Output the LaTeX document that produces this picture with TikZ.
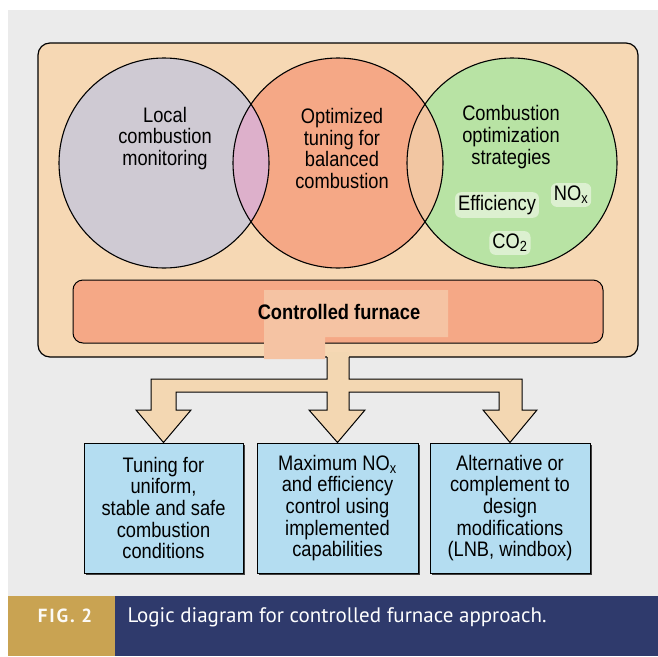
\documentclass[tikz,border=0pt]{standalone}
\usepackage{fontspec}
\newfontfamily\diafont[FakeStretch=0.87]{Liberation Sans}
\newfontfamily\capfont{PT Sans}
\usetikzlibrary{positioning,shadows}
\definecolor{paper}{HTML}{EBEBEB}
\definecolor{panel}{HTML}{F6D8B4}
\definecolor{greyc}{HTML}{CFCAD3}
\definecolor{salmon}{HTML}{F5A886}
\definecolor{greenc}{HTML}{B8E3A4}
\definecolor{lensa}{HTML}{DDB0CB}
\definecolor{lensb}{HTML}{F2C6A2}
\definecolor{patch}{HTML}{F5C3A3}
\definecolor{arrowc}{HTML}{F3D7B2}
\definecolor{skyb}{HTML}{B4DDF1}
\definecolor{halo}{HTML}{DCF0D0}
\definecolor{gold}{HTML}{C9A352}
\definecolor{navy}{HTML}{2F3A6C}
\begin{document}
\begin{tikzpicture}[x=1pt,y=-1pt]
\useasboundingbox (0,0) rectangle (658,656);
\fill[white] (0,0) rectangle (658,656);
\fill[paper] (8,10) rectangle (658,596);
\node[draw, line width=1.2pt, rounded corners=12pt, fill=panel, minimum width=600pt, minimum height=314pt] (frame) at (338,200) {};
\begin{scope}[every node/.style = {circle, minimum size=210pt, inner sep=0pt}]
\node[fill=greyc] (loc) at (164,163) {};
\node[fill=salmon] (opt) at (338,163) {};
\node[fill=greenc] (str) at (512,163) {};
\end{scope}
\begin{scope}
\clip (loc.center) circle (105pt);
\fill[lensa] (opt.center) circle (105pt);
\end{scope}
\begin{scope}
\clip (opt.center) circle (105pt);
\fill[lensb] (str.center) circle (105pt);
\end{scope}
\foreach \c in {loc,opt,str}
  \draw[line width=1.1pt] (\c.center) circle (105pt);
\begin{scope}[every node/.style = {font=\diafont\fontsize{21}{21.7}\selectfont, align=center, inner sep=1pt}]
\node (loctxt) at (165,138.5) {Local\\combustion\\monitoring};
\node (opttxt) at (342,148.5) {Optimized\\tuning for\\balanced\\combustion};
\node (strtxt) at (511,137) {Combustion\\optimization\\strategies};
\node[fill=halo, rounded corners=6pt, inner sep=3pt] (eff) at (497,205) {Efficiency};
\node[fill=halo, rounded corners=6pt, inner sep=3pt] (nox) at (571,195) {NO\textsubscript{x}};
\node[fill=halo, rounded corners=6pt, inner sep=3pt] (co2) at (510,243) {CO\textsubscript{2}};
\end{scope}
\node[draw, line width=1pt, rounded corners=10pt, fill=salmon, minimum width=530pt, minimum height=63pt] (ctl) at (338,311.5) {};
\fill[arrowc] (327,352) rectangle (349,359);
\fill[patch] (264,290) -- (448,290) -- (448,337) -- (325,337) -- (325,359) -- (264,359) -- cycle;
\node[font=\diafont\bfseries\fontsize{21}{22}\selectfont] (ctltxt) at (339,312) {Controlled furnace};
\begin{scope}[every node/.style = {draw, line width=1pt, fill=skyb, minimum height=130pt, align=center, font=\diafont\fontsize{21}{21.7}\selectfont, drop shadow={shadow xshift=1.5pt, shadow yshift=-1.5pt, fill=black!75, opacity=1}}]
\node[minimum width=159pt] (b1) at (163.5,508) {Tuning for\\uniform,\\stable and safe\\combustion\\conditions};
\node[minimum width=161pt] (b2) at (337.5,508) {Maximum NO\textsubscript{x}\\and efficiency\\control using\\implemented\\capabilities};
\node[minimum width=160pt] (b3) at (510,508) {Alternative or\\complement to\\design\\modifications\\(LNB, windbox)};
\end{scope}
\filldraw[fill=arrowc, line width=1pt, line join=miter] (349,357) -- (349,379) -- (522,379) -- (522,410) -- (537,410) -- (b3.north) -- (483,410) -- (499,410) -- (499,392) -- (349,392) -- (349,410) -- (365,410) -- (b2.north) -- (309,410) -- (327,410) -- (327,392) -- (176,392) -- (176,410) -- (191,410) -- (b1.north) -- (136,410) -- (151,410) -- (151,379) -- (327,379) -- (327,357);
\fill[gold] (8,596) rectangle (115,656);
\fill[navy] (115,596) rectangle (658,656);
\node[anchor=base, text=white!95!gold, font=\capfont\bfseries\fontsize{19}{22}\selectfont\addfontfeature{LetterSpace=10}] (fig) at (65,622) {FIG. 2};
\node[anchor=base west, text=white, font=\capfont\fontsize{21}{24}\selectfont] (cap) at (124,622) {Logic diagram for controlled furnace approach.};
\end{tikzpicture}
\end{document}
